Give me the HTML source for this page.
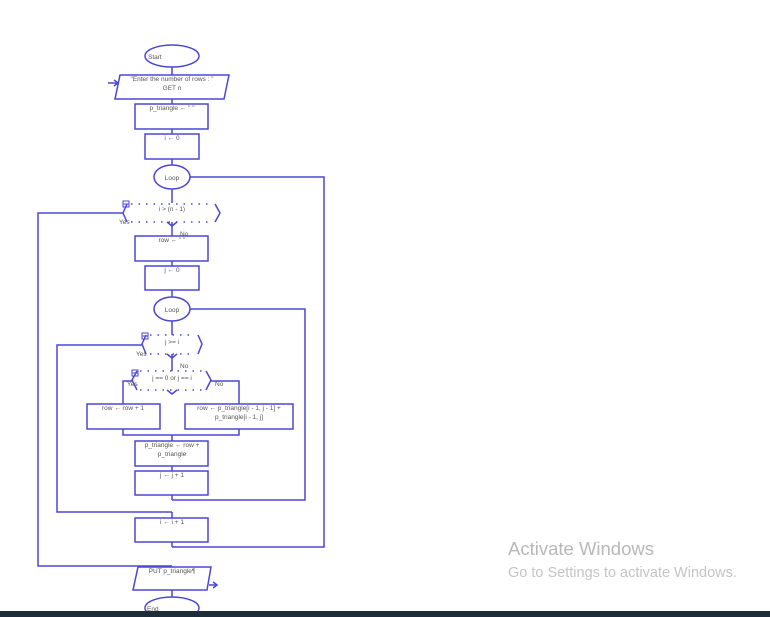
<!DOCTYPE html>
<html><head><meta charset="utf-8"><style>
html,body{margin:0;padding:0;background:#fff;width:770px;height:617px;overflow:hidden}
svg{display:block}
text{font-family:"Liberation Sans",sans-serif;font-size:6.5px;fill:#555}
</style></head><body>
<svg width="770" height="617" viewBox="0 0 770 617">
<g fill="none" stroke="#4b46d6" stroke-width="1.5">
<line x1="172" y1="67" x2="172" y2="75"/>
<line x1="172" y1="99" x2="172" y2="104"/>
<line x1="172" y1="129" x2="172" y2="134"/>
<line x1="172" y1="159" x2="172" y2="165"/>
<line x1="172" y1="189" x2="172" y2="203"/>
<line x1="172" y1="222" x2="172" y2="236"/>
<line x1="172" y1="261" x2="172" y2="266"/>
<line x1="172" y1="290" x2="172" y2="297"/>
<line x1="172" y1="321" x2="172" y2="335"/>
<line x1="172" y1="354" x2="172" y2="371"/>
<line x1="172" y1="435" x2="172" y2="441"/>
<line x1="172" y1="466" x2="172" y2="471"/>
<line x1="172" y1="495" x2="172" y2="500"/>
<line x1="172" y1="512" x2="172" y2="518"/>
<line x1="172" y1="542" x2="172" y2="547"/>
<line x1="172" y1="566" x2="172" y2="567"/>
<line x1="172" y1="590" x2="172" y2="597"/>
<ellipse cx="172" cy="56" rx="27" ry="11"/>
<polygon points="120,75 229,75 224,99 115,99"/>
<polyline points="108,83 118,83"/><polyline points="114,80 118,83 114,86"/>
<rect x="135" y="104" width="73" height="25"/>
<rect x="145" y="134" width="54" height="25"/>
<ellipse cx="172" cy="177" rx="18" ry="12"/>
<polyline points="190,177 324,177 324,547 172,547"/>
<polyline points="127,204 123,213 127,222"/>
<polyline points="215,204 220,213 215,222"/>
<polyline points="123,213 38,213 38,566 172,566"/>
<polyline points="167,222 172,226 177,222"/>
<rect x="135" y="236" width="73" height="25"/>
<rect x="145" y="266" width="54" height="24"/>
<ellipse cx="172" cy="309" rx="18" ry="12"/>
<polyline points="190,309 305,309 305,500 172,500"/>
<polyline points="146,335 142,344 146,354"/>
<polyline points="198,335 202,344 198,354"/>
<polyline points="142,345 57,345 57,512 172,512"/>
<polyline points="167,354 172,358 177,354"/>
<polyline points="137,371 132,380 137,390"/>
<polyline points="206,371 211,380 206,390"/>
<polyline points="167,390 172,394 177,390"/>
<polyline points="132,381 123,381 123,404"/>
<polyline points="211,381 239,381 239,404"/>
<rect x="87" y="404" width="73" height="25"/>
<rect x="185" y="404" width="108" height="25"/>
<polyline points="123,429 123,435 239,435 239,429"/>
<rect x="135" y="441" width="73" height="25"/>
<rect x="135" y="471" width="73" height="24"/>
<rect x="135" y="518" width="73" height="24"/>
<polygon points="138,567 211,567 207,590 133,590"/>
<polyline points="209,585 217,585"/><polyline points="213,582 217,585 213,588"/>
<ellipse cx="172" cy="608" rx="27" ry="11"/>
<rect x="123" y="201" width="6" height="6" stroke-width="1"/><line x1="123" y1="204" x2="129" y2="204" stroke-width="1"/>
<rect x="142" y="333" width="6" height="6" stroke-width="1"/><line x1="142" y1="336" x2="148" y2="336" stroke-width="1"/>
<rect x="132" y="370" width="6" height="6" stroke-width="1"/><line x1="132" y1="373" x2="138" y2="373" stroke-width="1"/>
</g>
<g stroke="#4b46d6" stroke-width="1.5" stroke-dasharray="1.5 6" fill="none">
<line x1="131" y1="204" x2="212" y2="204"/><line x1="131" y1="222" x2="212" y2="222"/>
<line x1="150" y1="335" x2="195" y2="335"/><line x1="150" y1="354" x2="195" y2="354"/>
<line x1="140" y1="371" x2="203" y2="371"/><line x1="140" y1="390" x2="203" y2="390"/>
</g>
<text x="148" y="59">Start</text>
<text x="172" y="81" text-anchor="middle">"Enter the number of rows : "</text>
<text x="172" y="90" text-anchor="middle">GET n</text>
<text x="172" y="110" text-anchor="middle">p_triangle ← " "</text>
<text x="172" y="140" text-anchor="middle">i ← 0</text>
<text x="172" y="180" text-anchor="middle">Loop</text>
<text x="172" y="211" text-anchor="middle">i &gt; (n - 1)</text>
<text x="119" y="224">Yes</text>
<text x="180" y="236">No</text>
<text x="172" y="242" text-anchor="middle">row ← " "</text>
<text x="172" y="272" text-anchor="middle">j ← 0</text>
<text x="172" y="312" text-anchor="middle">Loop</text>
<text x="172" y="344" text-anchor="middle">j &gt;= i</text>
<text x="136" y="356">Yes</text>
<text x="180" y="368">No</text>
<text x="172" y="380" text-anchor="middle">j == 0 or j == i</text>
<text x="127" y="386">Yes</text>
<text x="215" y="386">No</text>
<text x="123" y="410" text-anchor="middle">row ← row + 1</text>
<text x="239" y="410" text-anchor="middle">row ← p_triangle[i - 1, j - 1] +</text>
<text x="239" y="419" text-anchor="middle">p_triangle[i - 1, j]</text>
<text x="172" y="447" text-anchor="middle">p_triangle ← row +</text>
<text x="172" y="456" text-anchor="middle">p_triangle</text>
<text x="172" y="477" text-anchor="middle">j ← j + 1</text>
<text x="172" y="524" text-anchor="middle">i ← i + 1</text>
<text x="172" y="573" text-anchor="middle">PUT p_triangle¶</text>
<text x="147" y="611">End</text>
<text x="508" y="555" style="font-size:18.5px;fill:#b8b8b8">Activate Windows</text>
<text x="508" y="577" style="font-size:14.5px;fill:#c4c4c4">Go to Settings to activate Windows.</text>
<rect x="0" y="611" width="770" height="6" fill="#1f2d3a"/>
</svg>
</body></html>
